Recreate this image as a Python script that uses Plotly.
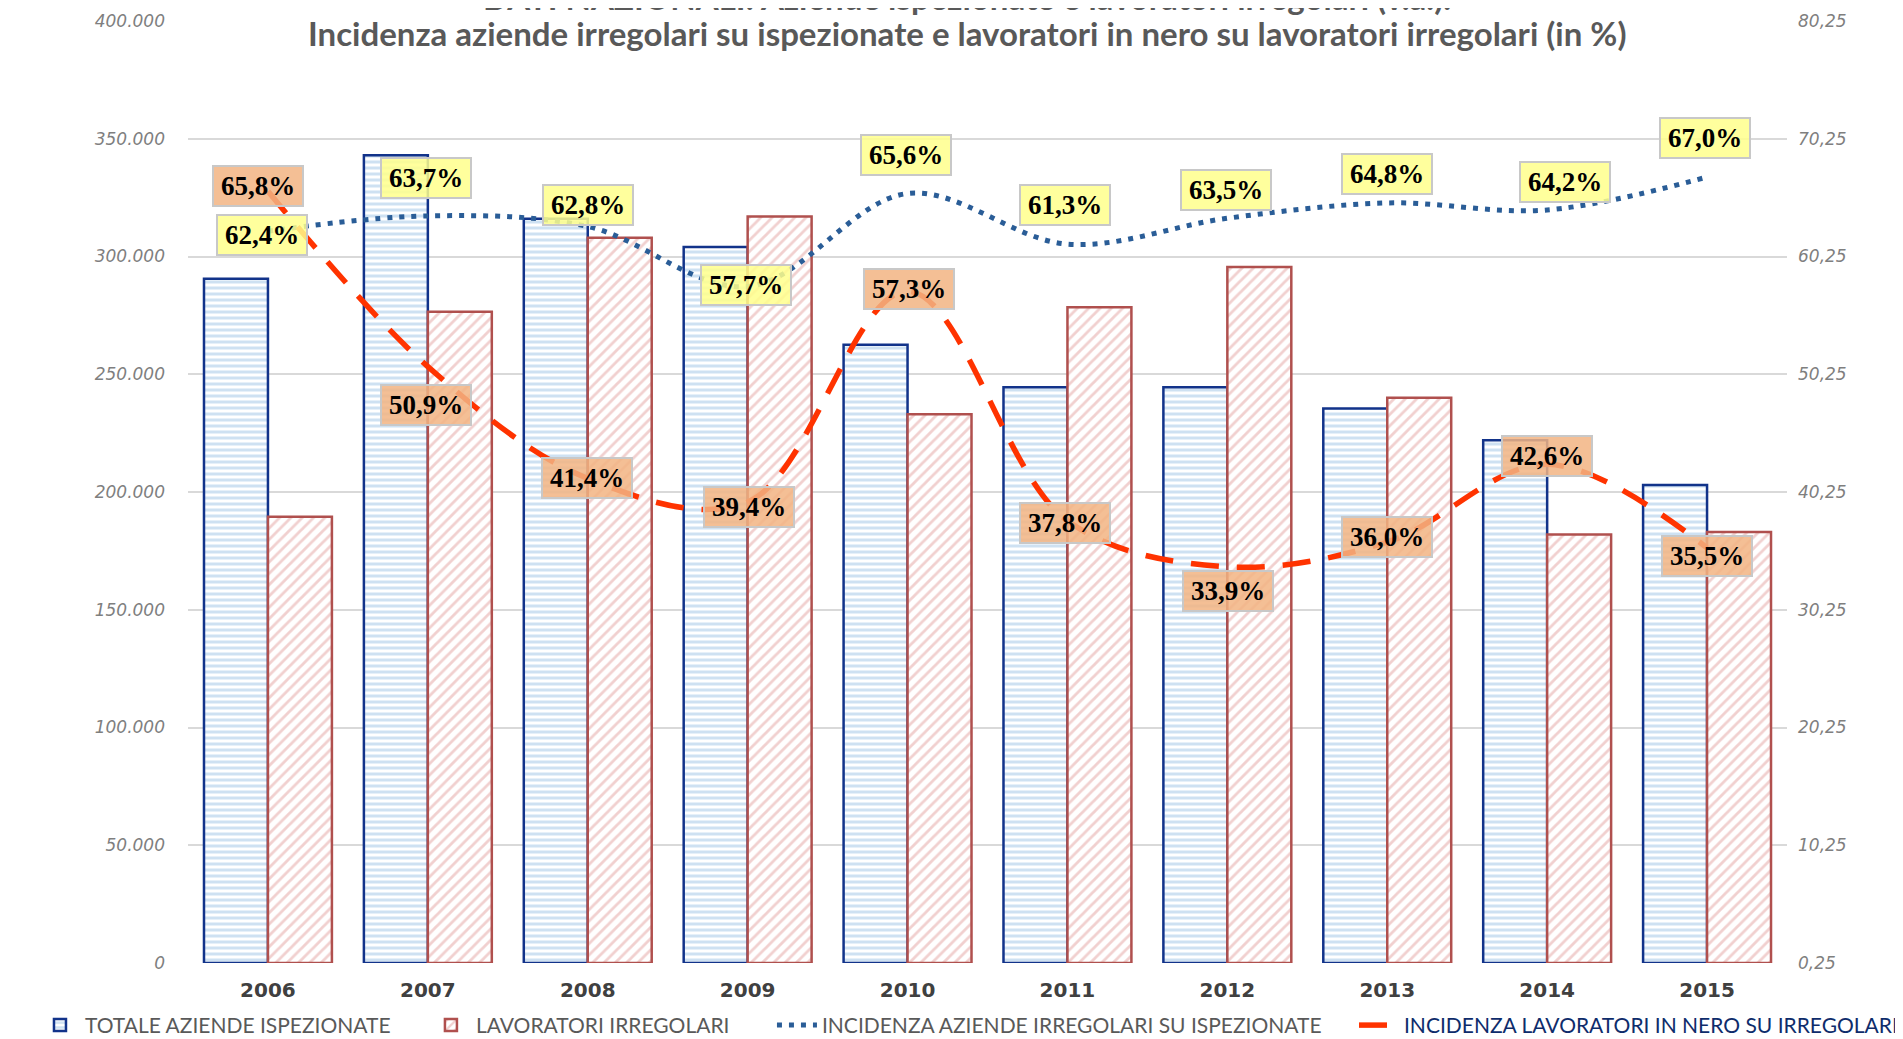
import plotly.graph_objects as go

# ---------------- data ----------------
years = ['2006', '2007', '2008', '2009', '2010', '2011', '2012', '2013', '2014', '2015']
totale_aziende_ispezionate = [290500, 343000, 316000, 304000, 262500, 244500, 244500, 235500, 222000, 203000]
lavoratori_irregolari = [189500, 276500, 308000, 317000, 233000, 278500, 295500, 240000, 182000, 183000]
incidenza_aziende_irregolari = [62.4, 63.7, 62.8, 57.7, 65.6, 61.3, 63.5, 64.8, 64.2, 67.0]
incidenza_lavoratori_nero = [65.8, 50.9, 41.4, 39.4, 57.3, 37.8, 33.9, 36.0, 42.6, 35.5]

left_tick_values = [0, 50000, 100000, 150000, 200000, 250000, 300000, 350000, 400000]
left_tick_labels = ['0', '50.000', '100.000', '150.000', '200.000', '250.000', '300.000', '350.000', '400.000']
right_tick_values = [0.25, 10.25, 20.25, 30.25, 40.25, 50.25, 60.25, 70.25, 80.25]
right_tick_labels = ['0,25', '10,25', '20,25', '30,25', '40,25', '50,25', '60,25', '70,25', '80,25']

title_line1 = 'DATI NAZIONALI: Aziende ispezionate e lavoratori irregolari (v.a.).'
title_line2 = 'Incidenza aziende irregolari su ispezionate e lavoratori in nero su lavoratori irregolari (in %)'

# label offsets (pixels) for data labels
blue_label_shift = [(-6, -4), (-2, 38), (0, 21), (-2, 2), (-2, 39), (-2, 39), (-1, 28), (0, 29), (18, 28), (-2, 39)]
red_label_shift = [(-10, 5), (-2, -38), (-1, 0), (1, -5), (1, 2), (-2, -2), (1, -24), (0, 5), (0, 8), (0, -8)]

# legend entry x positions (paper coords)
legend_x = [-0.0957, 0.1488, 0.3652, 0.7292]
legend_y = -0.0663


def pct(v):
    return f'{v:.1f}%'.replace('.', ',')


fig = go.Figure()

fig.add_trace(go.Bar(
    x=years, y=totale_aziende_ispezionate, name='TOTALE AZIENDE ISPEZIONATE', legend='legend',
    marker=dict(color='white',
                line=dict(color='#12338A', width=2.5),
                pattern=dict(shape='-', fgcolor='#9DC3E6', bgcolor='white', size=6, solidity=0.5)),
))
fig.add_trace(go.Bar(
    x=years, y=lavoratori_irregolari, name='LAVORATORI IRREGOLARI', legend='legend2',
    marker=dict(color='white',
                line=dict(color='#B0504E', width=2.5),
                pattern=dict(shape='/', fgcolor='#E3A19F', bgcolor='white', size=8, solidity=0.35)),
))
fig.add_trace(go.Scatter(
    x=years, y=incidenza_aziende_irregolari, name='INCIDENZA AZIENDE IRREGOLARI SU ISPEZIONATE',
    legend='legend3', yaxis='y2', mode='lines',
    line=dict(color='#2A5D97', width=5, dash='5px,7px', shape='spline', smoothing=1.0),
))
fig.add_trace(go.Scatter(
    x=years, y=incidenza_lavoratori_nero,
    name="<span style='color:#0E2C6B'>INCIDENZA LAVORATORI IN NERO SU IRREGOLARI</span>",
    legend='legend4', yaxis='y2', mode='lines',
    line=dict(color='#FF3300', width=5.5, dash='28px,18px', shape='spline', smoothing=1.0),
))

label_font = dict(family='Liberation Serif', size=27, color='black', weight='bold')

annotations = []
for i in range(len(years)):
    dx, dy = blue_label_shift[i]
    annotations.append(dict(
        x=i, y=incidenza_aziende_irregolari[i], xref='x', yref='y2',
        text=pct(incidenza_aziende_irregolari[i]), showarrow=False,
        xshift=dx, yshift=dy, font=label_font,
        bgcolor='rgba(255,255,140,0.85)', bordercolor='#C8C8C8', borderwidth=2, borderpad=3,
        width=82, height=32,
    ))
for i in range(len(years)):
    dx, dy = red_label_shift[i]
    annotations.append(dict(
        x=i, y=incidenza_lavoratori_nero[i], xref='x', yref='y2',
        text=pct(incidenza_lavoratori_nero[i]), showarrow=False,
        xshift=dx, yshift=dy, font=label_font,
        bgcolor='rgba(242,180,130,0.85)', bordercolor='#C8C8C8', borderwidth=2, borderpad=3,
        width=82, height=32,
    ))

# titles (first line partly cut by the top edge, as in the original)
annotations.append(dict(
    x=0.4872, y=1.0255, xref='paper', yref='paper', text=title_line1, showarrow=False,
    xanchor='center', yanchor='middle',
    font=dict(family='Lato', size=33, color='#595959', weight='bold'),
))
annotations.append(dict(
    x=0.4872, y=0.9873, xref='paper', yref='paper', text=title_line2, showarrow=False,
    xanchor='center', yanchor='middle',
    font=dict(family='Lato', size=33, color='#595959', weight='bold'),
))

legend_common = dict(orientation='h', xref='paper', yref='paper', y=legend_y,
                     xanchor='left', yanchor='middle',
                     font=dict(family='Lato', size=21, color='#595959'),
                     itemwidth=40, tracegroupgap=0, bgcolor='rgba(0,0,0,0)')

fig.update_layout(
    width=1903, height=1039,
    margin=dict(l=180, r=124, t=13, b=84, autoexpand=False),
    paper_bgcolor='white', plot_bgcolor='white',
    barmode='group', bargap=0.2, bargroupgap=0.0,
    showlegend=True,
    legend=dict(x=legend_x[0], **legend_common),
    legend2=dict(x=legend_x[1], **legend_common),
    legend3=dict(x=legend_x[2], **legend_common),
    legend4=dict(x=legend_x[3], **legend_common),
    xaxis=dict(type='category', range=[-0.5, 9.5], showgrid=False, zeroline=False, showline=False,
               ticks='',
               tickfont=dict(family='DejaVu Sans', size=20, color='#404040', weight='bold'),
               ticklabelstandoff=13),
    yaxis=dict(range=[0, 400000], tickvals=left_tick_values, ticktext=left_tick_labels,
               showgrid=True, gridcolor='#D9D9D9', gridwidth=1.5, zeroline=False, showline=False,
               ticks='', ticklabelstandoff=22,
               tickfont=dict(family='DejaVu Sans', size=17, color='#7F7F7F', style='italic')),
    yaxis2=dict(range=[0.25, 80.25], tickvals=right_tick_values, ticktext=right_tick_labels,
                overlaying='y', side='right', showgrid=False, zeroline=False, showline=False,
                ticks='', ticklabelstandoff=10,
                tickfont=dict(family='DejaVu Sans', size=17, color='#7F7F7F', style='italic')),
    annotations=annotations,
)

fig.write_html('out.html')
